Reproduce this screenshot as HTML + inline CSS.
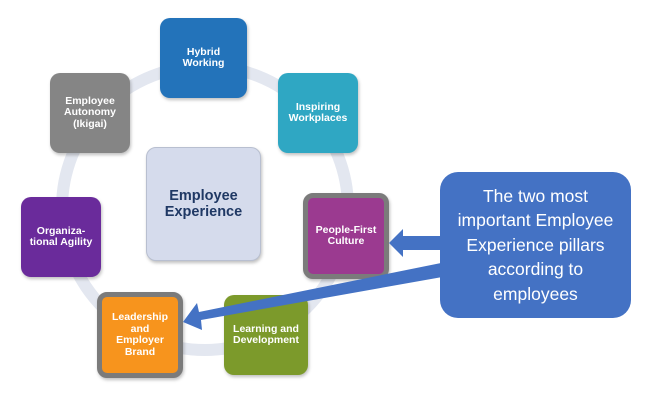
<!DOCTYPE html>
<html><head><style>
body{margin:0;width:650px;height:404px;background:#fff;position:relative;overflow:hidden;font-family:"Liberation Sans",sans-serif}
.b{position:absolute;border-radius:10px;color:#fff;font-weight:bold;font-size:10.5px;line-height:11.5px;display:flex;align-items:center;justify-content:center;text-align:center;box-shadow:1px 2px 3px rgba(0,0,0,.25)}
svg{position:absolute;left:0;top:0}
</style></head><body>
<svg width="650" height="404">
<ellipse cx="205" cy="208" rx="143" ry="142" fill="none" stroke="#e3e7f0" stroke-width="12"/>
</svg>
<div class="b" style="left:160px;top:18px;width:87px;height:80px;background:#2373ba">Hybrid<br>Working</div>
<div class="b" style="left:278px;top:73px;width:80px;height:80px;background:#2fa7c3">Inspiring<br>Workplaces</div>
<div class="b" style="left:50px;top:73px;width:80px;height:80px;background:#858585">Employee<br>Autonomy<br>(Ikigai)</div>
<div class="b" style="left:146px;top:147px;width:113px;height:112px;background:#d5dbec;border:1px solid #b8bfd0;color:#1f3864;font-size:14.5px;line-height:16px">Employee<br>Experience</div>
<div class="b" style="left:21px;top:197px;width:80px;height:80px;background:#6a2b9b">Organiza-<br>tional Agility</div>
<div class="b" style="left:303px;top:193px;width:76px;height:76px;background:#9b3a90;border:5px solid #7b7b7b">People-First<br>Culture</div>
<div class="b" style="left:224px;top:295px;width:84px;height:80px;background:#7c9a2b">Learning and<br>Development</div>
<div class="b" style="left:97px;top:292px;width:76px;height:76px;background:#f7941d;border:5px solid #7b7b7b">Leadership<br>and<br>Employer<br>Brand</div>
<svg width="650" height="404">
<polygon points="445,236 403,236 403,229 389,243 403,257 403,250 445,250" fill="#4472c4"/>
<polygon points="446,262 199,312 197,303 183,322 202,330 201,320 448,276" fill="#4472c4"/>
</svg>
<div class="b" style="left:440px;top:172px;width:191px;height:146px;background:#4472c4;border-radius:18px;font-weight:normal;font-size:17.5px;line-height:24.5px;box-shadow:none">The two most<br>important Employee<br>Experience pillars<br>according to<br>employees</div>
</body></html>
